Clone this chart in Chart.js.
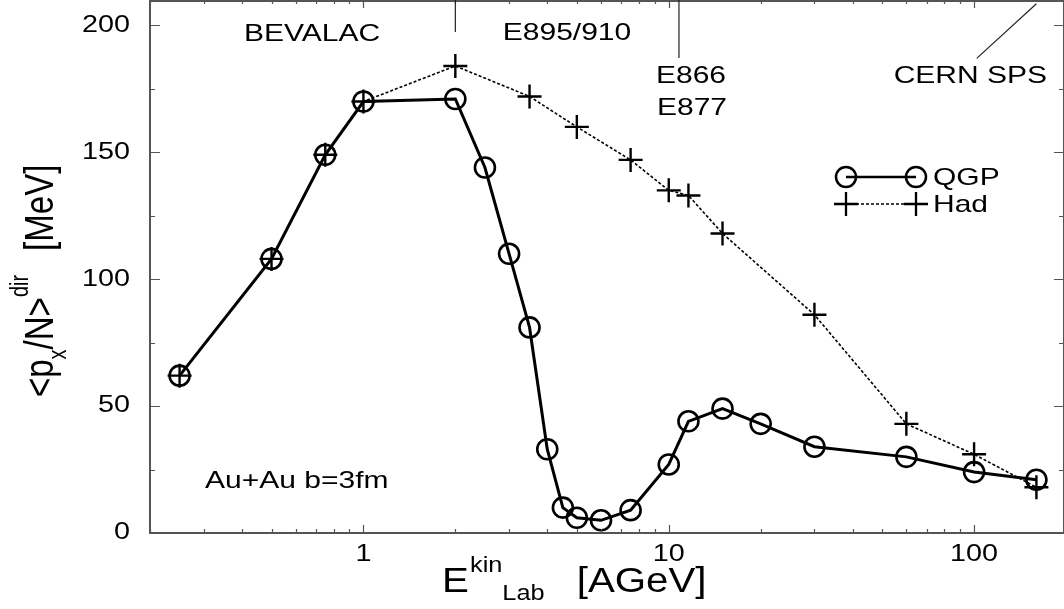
<!DOCTYPE html>
<html>
<head>
<meta charset="utf-8">
<script src="https://cdn.jsdelivr.net/npm/chart.js@4.4.1/dist/chart.umd.min.js"></script>
<style>
  html, body { margin: 0; padding: 0; background: #fff; }
  #wrap { width: 1064px; height: 609px; }
</style>
</head>
<body>
<div id="wrap"><canvas id="grafico" width="1064" height="609"></canvas></div>
<script>
// --- dados ---
const energiaQgp = [0.25, 0.5, 0.75, 1, 2, 2.5, 3, 3.5, 4, 4.5, 5, 6, 7.5, 10, 11.6, 15, 20, 30, 60, 100, 160];
const fluxoQgp   = [62, 108, 149, 170, 171, 144, 110, 81, 33, 10, 6, 5, 9, 27, 44, 49, 43, 34, 30, 24, 21];
const energiaHad = [0.25, 0.5, 0.75, 1, 2, 3.5, 5, 7.5, 10, 11.6, 15, 30, 60, 100, 160];
const fluxoHad   = [62, 108, 149, 170, 184, 172, 160, 147, 135, 133, 118, 86, 43, 31, 18];

const ticksY = [0, 50, 100, 150, 200];
const ticksX = [1, 10, 100];
const marcasExp = [2, 10.8];          // linhas verticais E895/910 e E866/E877
const linhaSps = [[160, 208.5], [102, 187]];

const FONTE = '"Liberation Sans", Arial, sans-serif';
const ESTICA = 1.25;   // o original tem o texto esticado na horizontal

function pontos(xs, ys) {
    return xs.map((x, i) => ({ x: x, y: ys[i] }));
}

// texto esticado em x
function texto(ctx, str, x, y, size, align, base) {
    ctx.save();
    ctx.translate(x, y);
    ctx.scale(ESTICA, 1);
    ctx.font = size + 'px ' + FONTE;
    ctx.textAlign = align || 'left';
    ctx.textBaseline = base || 'alphabetic';
    ctx.fillText(str, 0, 0);
    ctx.restore();
}

// sequência de pedaços (índices, expoentes) no referencial actual
function pedacos(ctx, lista) {
    let u = 0;
    lista.forEach(p => {
        u += p.gap || 0;
        ctx.font = p.size + 'px ' + FONTE;
        ctx.fillText(p.t, u, p.dy || 0);
        u += ctx.measureText(p.t).width;
    });
}

const desenhoExtra = {
    id: 'desenhoExtra',
    afterDraw(chart) {
        const ctx = chart.ctx;
        const a = chart.chartArea;
        const sx = chart.scales.x, sy = chart.scales.y;
        ctx.save();
        ctx.fillStyle = '#000';

        // moldura
        ctx.strokeStyle = '#555';
        ctx.lineWidth = 2;
        ctx.strokeRect(a.left, a.top + 1, a.right - a.left, a.bottom - a.top - 1);

        // ticks y (para dentro)
        ctx.lineWidth = 1.2;
        for (let v = 0; v <= 200; v += 25) {
            const py = Math.round(sy.getPixelForValue(v)) + 0.5;
            const len = v % 50 === 0 ? 10 : 5;
            ctx.beginPath();
            ctx.moveTo(a.left, py); ctx.lineTo(a.left + len, py);
            ctx.moveTo(a.right, py); ctx.lineTo(a.right - len, py);
            ctx.stroke();
        }
        // ticks x logarítmicos
        for (let dec = 0.1; dec <= 100; dec *= 10) {
            for (let m = 1; m <= 9; m++) {
                const v = dec * m;
                if (v < sx.min || v > sx.max) continue;
                const px = Math.round(sx.getPixelForValue(v)) + 0.5;
                const len = m === 1 ? 8 : 4;
                ctx.beginPath();
                ctx.moveTo(px, a.bottom); ctx.lineTo(px, a.bottom - len);
                ctx.moveTo(px, a.top); ctx.lineTo(px, a.top + len);
                ctx.stroke();
            }
        }

        // rótulos dos ticks
        ctx.fillStyle = '#000';
        ticksY.forEach(v => texto(ctx, String(v), 130, sy.getPixelForValue(v), 23, 'right', 'middle'));
        ticksX.forEach(v => texto(ctx, String(v), sx.getPixelForValue(v), 561, 23, 'center'));

        // marcas das experiências
        ctx.strokeStyle = '#222';
        ctx.lineWidth = 1.2;
        const px2 = sx.getPixelForValue(marcasExp[0]);
        const px11 = sx.getPixelForValue(marcasExp[1]);
        ctx.beginPath();
        ctx.moveTo(px2, a.top); ctx.lineTo(px2, a.top + 32);
        ctx.moveTo(px11, a.top); ctx.lineTo(px11, a.top + 58);
        ctx.moveTo(sx.getPixelForValue(linhaSps[0][0]), sy.getPixelForValue(linhaSps[0][1]));
        ctx.lineTo(sx.getPixelForValue(linhaSps[1][0]), sy.getPixelForValue(linhaSps[1][1]));
        ctx.stroke();

        texto(ctx, 'BEVALAC', 312, 41, 24, 'center');
        texto(ctx, 'E895/910', 567, 40, 24, 'center');
        texto(ctx, 'E866', 691, 83, 24, 'center');
        texto(ctx, 'E877', 692, 115, 24, 'center');
        texto(ctx, 'CERN SPS', 1047, 83, 24, 'right');
        texto(ctx, 'Au+Au b=3fm', 205, 488, 24, 'left');

        // legenda
        ctx.strokeStyle = '#000';
        ctx.lineWidth = 2.5;
        ctx.setLineDash([]);
        ctx.beginPath(); ctx.moveTo(846, 177); ctx.lineTo(916, 177); ctx.stroke();
        [846, 916].forEach(x => {
            ctx.beginPath(); ctx.arc(x, 177, 10, 0, Math.PI * 2); ctx.stroke();
        });
        ctx.lineWidth = 1.5;
        ctx.setLineDash([3, 2]);
        ctx.beginPath(); ctx.moveTo(846, 204); ctx.lineTo(916, 204); ctx.stroke();
        ctx.setLineDash([]);
        ctx.lineWidth = 2.3;
        [846, 916].forEach(x => {
            ctx.beginPath();
            ctx.moveTo(x - 12, 204); ctx.lineTo(x + 12, 204);
            ctx.moveTo(x, 192); ctx.lineTo(x, 216);
            ctx.stroke();
        });
        texto(ctx, 'QGP', 933, 178, 24, 'left', 'middle');
        texto(ctx, 'Had', 933, 205, 24, 'left', 'middle');

        // título do eixo x
        ctx.save();
        ctx.translate(442, 592);
        ctx.scale(1.15, 1);
        ctx.textAlign = 'left';
        ctx.textBaseline = 'alphabetic';
        pedacos(ctx, [
            { t: 'E', size: 35 },
            { t: 'kin', size: 22, dy: -20, gap: 1 },
            { t: 'Lab', size: 22, dy: 8 },
            { t: '[AGeV]', size: 35, gap: 28 }
        ]);
        ctx.restore();

        // título do eixo y
        ctx.save();
        ctx.translate(53, 397);
        ctx.scale(ESTICA, 1);
        ctx.rotate(-Math.PI / 2);
        ctx.textAlign = 'left';
        ctx.textBaseline = 'alphabetic';
        pedacos(ctx, [
            { t: '<p', size: 33 },
            { t: 'x', size: 20, dy: 10 },
            { t: '/N>', size: 33 },
            { t: 'dir', size: 20, dy: -20 },
            { t: '[MeV]', size: 33, gap: 24 }
        ]);
        ctx.restore();

        ctx.restore();
    }
};

const ctx = document.getElementById('grafico').getContext('2d');
new Chart(ctx, {
    type: 'line',
    data: {
        datasets: [
            {
                label: 'Had',
                data: pontos(energiaHad, fluxoHad),
                borderColor: '#000',
                borderWidth: 1.6,
                borderDash: [3, 2],
                pointStyle: 'cross',
                pointRadius: 12,
                pointBorderWidth: 2.4,
                pointBorderColor: '#000',
                tension: 0
            },
            {
                label: 'QGP',
                data: pontos(energiaQgp, fluxoQgp),
                borderColor: '#000',
                borderWidth: 3,
                pointStyle: 'circle',
                pointRadius: 10,
                pointBorderWidth: 2.6,
                pointBorderColor: '#000',
                pointBackgroundColor: 'rgba(0,0,0,0)',
                tension: 0
            }
        ]
    },
    options: {
        responsive: false,
        animation: false,
        devicePixelRatio: 1,
        layout: { autoPadding: false, padding: 0 },
        plugins: { legend: { display: false }, tooltip: { enabled: false } },
        scales: {
            x: {
                type: 'logarithmic',
                min: 0.2,
                max: 197,
                grid: { display: false },
                border: { display: false },
                ticks: { display: false },
                afterFit: s => { s.height = 76; }
            },
            y: {
                type: 'linear',
                min: 0,
                max: 210,
                grid: { display: false },
                border: { display: false },
                ticks: { display: false },
                afterFit: s => { s.width = 150; }
            }
        }
    },
    plugins: [desenhoExtra]
});
</script>
</body>
</html>
